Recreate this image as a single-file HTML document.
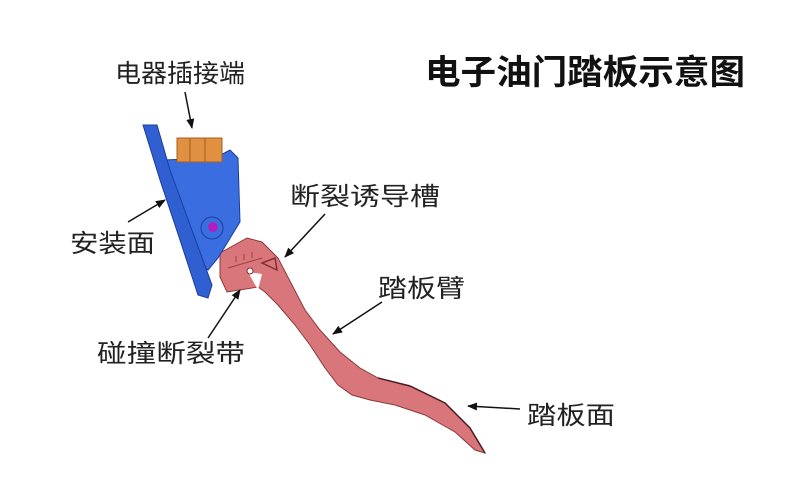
<!DOCTYPE html>
<html><head><meta charset="utf-8"><style>
html,body{margin:0;padding:0;background:#fff;}
svg{display:block;}
text{font-family:"Liberation Sans","Noto Sans CJK SC",sans-serif;fill:#222;}
</style></head><body>
<svg width="800" height="499" viewBox="0 0 800 499" xmlns="http://www.w3.org/2000/svg">
<defs><marker id="a" markerWidth="10" markerHeight="8" refX="9" refY="4" orient="auto" markerUnits="userSpaceOnUse"><path d="M0,0 L10,4 L0,8 Z" fill="#111"/></marker></defs>
<rect width="800" height="499" fill="#fff"/>
<text x="425" y="84" font-size="34" font-weight="bold" textLength="320" lengthAdjust="spacingAndGlyphs" style="fill:#111">电子油门踏板示意图</text>
<!-- pedal arm -->
<path d="M220,253 L247,238 L262,242 L278,258 L292,285 L305,310 L320,330 L340,352 L360,368 L378,378 L410,386 L445,403 L470,428 L485,453 L475,450 L455,432 L425,415 L395,405 L370,400 L352,395 L338,385 L325,368 L310,345 L295,325 L278,305 L265,292 L258,287 L227,292 L220,277 Z" fill="#d9767c" stroke="#8a3a3a" stroke-width="1"/>
<path d="M378,378 L410,386 L445,403 L470,428 L485,453" fill="none" stroke="#4a2020" stroke-width="1.5"/>
<path d="M228,268 L262,258 M236,262 l0,-6 M244,260 l0,-6 M252,258 l0,-6" stroke="#a04040" stroke-width="1" fill="none"/>
<path d="M262,263 L275,258 L277,270 Z" fill="none" stroke="#803030" stroke-width="1.5"/>
<path d="M248,272 L258,290 L262,274 Z" fill="#fff"/>
<circle cx="250" cy="271" r="3" fill="#fff" stroke="#803030"/>
<!-- blue mount -->
<path d="M163,160 L215,158 L230,150 L238,158 L240,222 L232,235 L218,258 L208,270 L195,260 L170,200 Z" fill="#3a6ee0" stroke="#1c3e9a" stroke-width="1"/>
<path d="M143,125 L157,125 L170,170 L212,285 L208,298 L198,295 L180,240 L160,180 Z" fill="#2f5fd0" stroke="#1c3e9a" stroke-width="1"/>
<rect x="177" y="138" width="45" height="24" fill="#e09040" stroke="#a06020"/>
<path d="M190,138 v24 M205,138 v24" stroke="#a06020"/>
<circle cx="212" cy="228" r="11" fill="#3a6ee0" stroke="#1c3e9a"/>
<circle cx="213" cy="227" r="5" fill="#b020c0"/>
<!-- labels -->
<g font-size="25">
<text x="115" y="82" textLength="130" lengthAdjust="spacingAndGlyphs">电器插接端</text>
<text x="70" y="252" textLength="85" lengthAdjust="spacingAndGlyphs">安装面</text>
<text x="290" y="205" textLength="150" lengthAdjust="spacingAndGlyphs">断裂诱导槽</text>
<text x="378" y="297" textLength="87" lengthAdjust="spacingAndGlyphs">踏板臂</text>
<text x="97" y="362" textLength="148" lengthAdjust="spacingAndGlyphs">碰撞断裂带</text>
<text x="527" y="424" textLength="88" lengthAdjust="spacingAndGlyphs">踏板面</text>
</g>
<g stroke="#111" stroke-width="1.5" marker-end="url(#a)">
<line x1="185" y1="92" x2="192" y2="128"/>
<line x1="128" y1="222" x2="165" y2="200"/>
<line x1="325" y1="214" x2="285" y2="257"/>
<line x1="382" y1="302" x2="333" y2="334"/>
<line x1="208" y1="338" x2="240" y2="290"/>
<line x1="520" y1="409" x2="468" y2="406"/>
</g>
</svg>
</body></html>
